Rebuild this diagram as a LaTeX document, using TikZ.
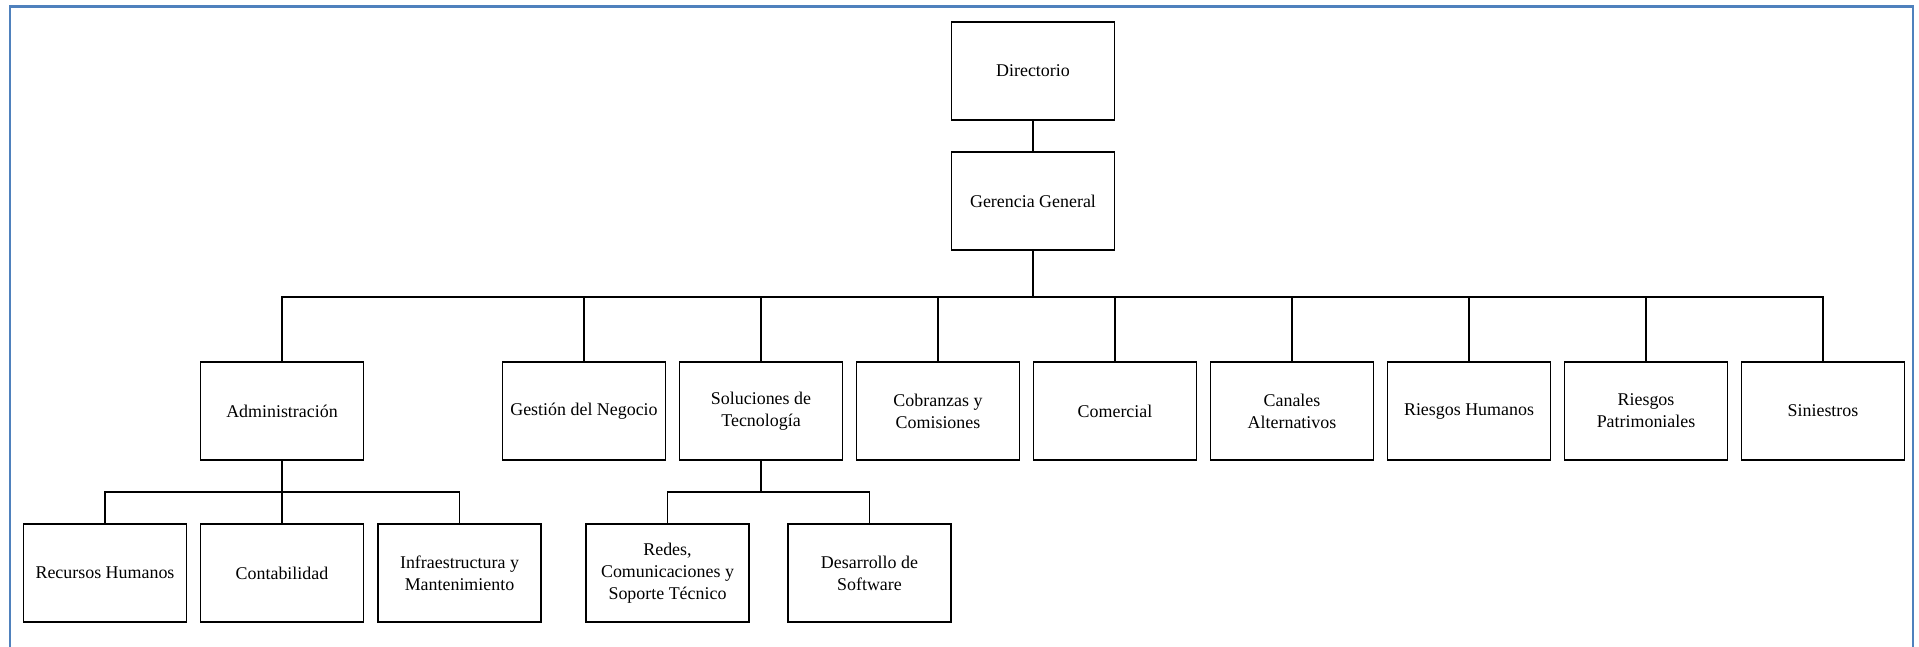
\documentclass[tikz,border=0pt]{standalone}
\usepackage{fontspec}
\setmainfont{Liberation Serif}
\usetikzlibrary{shapes,backgrounds}

\definecolor{marco}{RGB}{79,129,189}

\begin{document}
\begin{tikzpicture}[x=0.02cm, y=-0.02cm,
    unidad/.style={draw,
        line width=0.7pt,
        minimum width=3.26cm,
        minimum height=1.96cm,
        align=center,
        font=\fontsize{10.2}{12.6}\selectfont},
    enlace/.style={line width=0.7pt}]

\useasboundingbox (0,0) rectangle (1919,646);

% Marco
\draw [marco, line width=1.2pt] (10,660) -- (10,6.5) -- (1913,6.5) -- (1913,660);

% Direccion
\node [unidad] (dir) at (1033,71) {Directorio};
\node [unidad] (ger) at (1033,201) {Gerencia General};

% Areas
\node [unidad] (adm) at (282,411) {Administración};
\node [unidad] (ges) at (584,411) {Gestión del Negocio};
\node [unidad] (sol) at (761,411) {Soluciones de\\Tecnología};
\node [unidad] (cob) at (938,411) {Cobranzas y\\Comisiones};
\node [unidad] (com) at (1115,411) {Comercial};
\node [unidad] (can) at (1292,411) {Canales\\Alternativos};
\node [unidad] (rhu) at (1469,411) {Riesgos Humanos};
\node [unidad] (rpa) at (1646,411) {Riesgos\\Patrimoniales};
\node [unidad] (sin) at (1823,411) {Siniestros};

% Administracion
\node [unidad] (rec) at (105,573) {Recursos Humanos};
\node [unidad] (con) at (282,573) {Contabilidad};
\node [unidad] (inf) at (459.5,573) {Infraestructura y\\Mantenimiento};

% Soluciones de Tecnologia
\node [unidad] (red) at (667.5,573) {Redes,\\Comunicaciones y\\Soporte Técnico};
\node [unidad] (des) at (869.5,573) {Desarrollo de\\Software};

% Lineas
\coordinate (busG) at (1033,297);
\coordinate (busA) at (282,492);
\coordinate (busS) at (761,492);

\draw [enlace] (dir) -- (ger);
\draw [enlace] (ger.south) -- (busG);
\foreach \n in {adm,ges,sol,cob,com,can,rhu,rpa,sin}
    \draw [enlace] (busG) -| (\n.north);

\draw [enlace] (adm.south) -- (busA);
\foreach \n in {rec,con,inf}
    \draw [enlace] (busA) -| (\n.north);

\draw [enlace] (sol.south) -- (busS);
\foreach \n in {red,des}
    \draw [enlace] (busS) -| (\n.north);

\end{tikzpicture}
\end{document}
